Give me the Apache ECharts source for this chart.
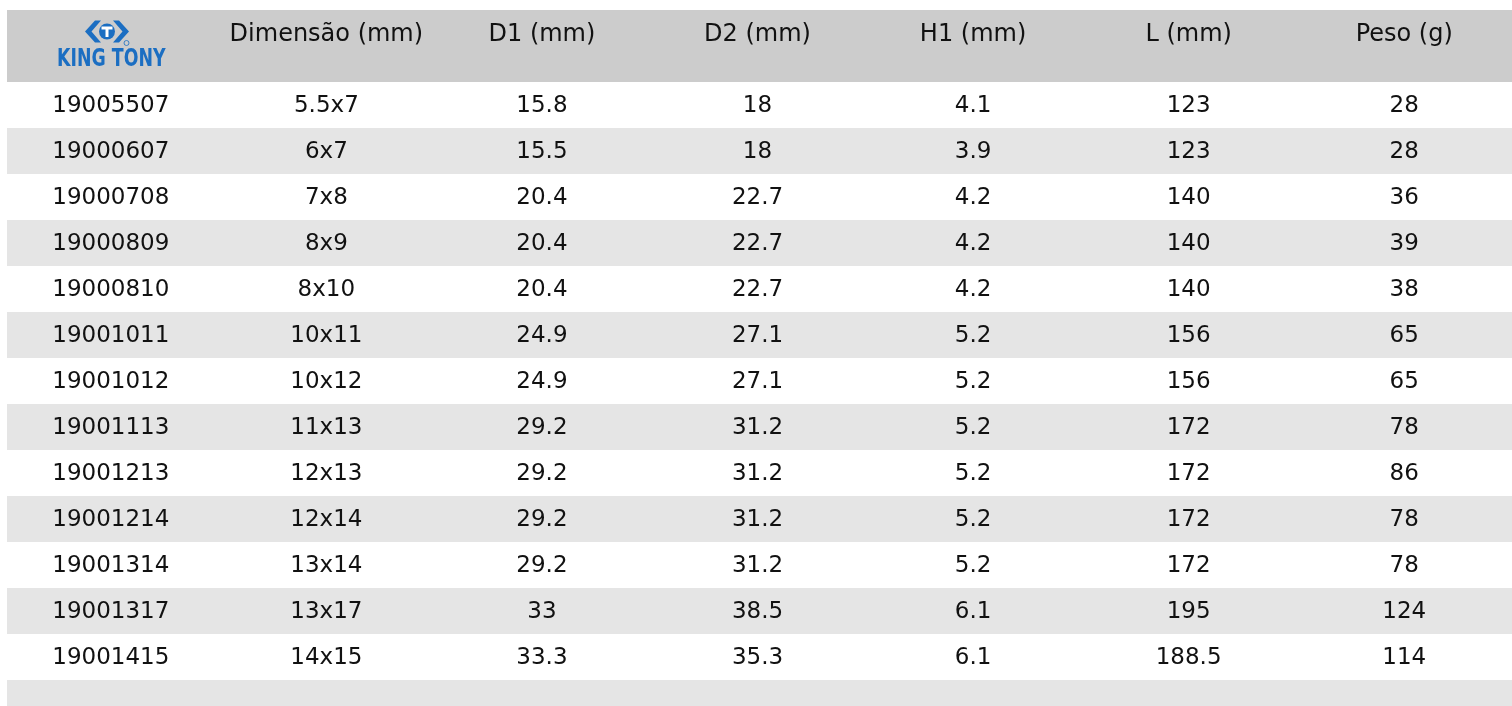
<!DOCTYPE html>
<html>
<head>
<meta charset="utf-8">
<script src="https://cdn.jsdelivr.net/npm/echarts@6/dist/echarts.min.js"></script>
<style>
html,body{margin:0;padding:0;background:#fff;overflow:hidden;width:1512px;height:706px;}
#main{width:1512px;height:726px;}
</style>
</head>
<body>
<div id="main"></div>
<script>
const headers = ['', 'Dimensão (mm)', 'D1 (mm)', 'D2 (mm)', 'H1 (mm)', 'L (mm)', 'Peso (g)'];
const codes = ['19005507','19000607','19000708','19000809','19000810','19001011','19001012','19001113','19001213','19001214','19001314','19001317','19001415'];
const dims = ['5.5x7','6x7','7x8','8x9','8x10','10x11','10x12','11x13','12x13','12x14','13x14','13x17','14x15'];
const d1 = [15.8,15.5,20.4,20.4,20.4,24.9,24.9,29.2,29.2,29.2,29.2,33,33.3];
const d2 = [18,18,22.7,22.7,22.7,27.1,27.1,31.2,31.2,31.2,31.2,38.5,35.3];
const h1 = [4.1,3.9,4.2,4.2,4.2,5.2,5.2,5.2,5.2,5.2,5.2,6.1,6.1];
const lengths = [123,123,140,140,140,156,156,172,172,172,172,195,188.5];
const weights = [28,28,36,39,38,65,65,78,86,78,78,124,114];
const brand = 'KING TONY';

const columns = [codes, dims, d1, d2, h1, lengths, weights];
const rowCount = codes.length + 1; // plus trailing empty band
const rowIdx = [];
for (let i = 0; i < rowCount; i++) rowIdx.push(String(i));

const cellData = [];
const cellText = [];
columns.forEach((col, c) => {
  col.forEach((v, r) => { cellData.push([c, r]); cellText.push(String(v)); });
});
const bandData = rowIdx.map((_, i) => [0, i]);

const BLUE = '#1b6ec2';
const FONT = 'DejaVu Sans';

const chart = echarts.init(document.getElementById('main'), null, {renderer: 'canvas'});
chart.setOption({
  animation: false,
  backgroundColor: '#ffffff',
  grid: {left: 3, top: 82, width: 1512, height: 46 * rowCount},
  xAxis: {
    type: 'category', data: headers, position: 'top', boundaryGap: true,
    axisLine: {show: false}, axisTick: {show: false}, splitLine: {show: false},
    axisLabel: {fontSize: 24, fontFamily: FONT, color: '#111', margin: 47, verticalAlign: 'middle', interval: 0}
  },
  yAxis: {
    type: 'category', data: rowIdx, inverse: true, show: false
  },
  graphic: [
    {type: 'rect', z: -10, shape: {x: 7, y: 10, width: 1505, height: 72}, style: {fill: '#cccccc'}},
    {type: 'group', z: 10, children: [
      {type: 'polygon', shape: {points: [[95,20.5],[101,20.5],[91.5,31.5],[101,42.5],[95,42.5],[85,31.5]]}, style: {fill: BLUE}},
      {type: 'polygon', shape: {points: [[119,20.5],[113,20.5],[122.5,31.5],[113,42.5],[119,42.5],[129,31.5]]}, style: {fill: BLUE}},
      {type: 'circle', shape: {cx: 107, cy: 31.5, r: 8}, style: {fill: BLUE}},
      {type: 'rect', shape: {x: 101.5, y: 26.5, width: 11, height: 3}, style: {fill: '#ffffff'}},
      {type: 'rect', shape: {x: 105.5, y: 29, width: 3, height: 8}, style: {fill: '#ffffff'}},
      {type: 'circle', shape: {cx: 126.5, cy: 43, r: 2.5}, style: {fill: 'none', stroke: BLUE, lineWidth: 0.8}},
      {type: 'text', x: 57, y: 59.5, scaleX: 0.79, scaleY: 1.1, originX: 0, originY: 0, style: {text: brand, font: 'bold 22px "DejaVu Sans"', fill: BLUE, align: 'left', verticalAlign: 'middle'}}
    ]}
  ],
  series: [
    {
      type: 'custom', z: 1, silent: true,
      data: bandData,
      renderItem: function (params, api) {
        const r = api.value(1);
        const c = api.coord([0, r]);
        const h = api.size([0, 1])[1];
        return {type: 'rect', shape: {x: 7, y: c[1] - h / 2, width: api.getWidth() - 7, height: h},
          style: {fill: r % 2 ? '#e5e5e5' : '#ffffff'}};
      }
    },
    {
      type: 'custom', z: 5, silent: true,
      data: cellData,
      renderItem: function (params, api) {
        const c = api.coord([api.value(0), api.value(1)]);
        return {type: 'text', x: c[0], y: c[1] + 1,
          style: {text: cellText[params.dataIndex], fontSize: 23, fontFamily: FONT, fill: '#111', align: 'center', verticalAlign: 'middle'}};
      }
    }
  ]
});
</script>
</body>
</html>
